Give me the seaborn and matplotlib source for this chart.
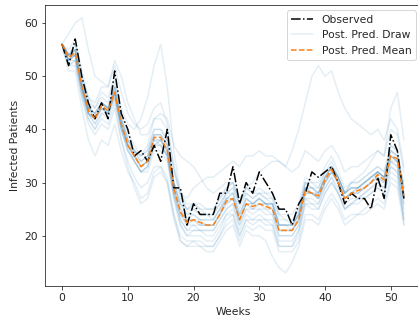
import numpy as np
import pandas as pd
import matplotlib
matplotlib.use("Agg")
import matplotlib.pyplot as plt
import seaborn as sns
from matplotlib.lines import Line2D

weeks = list(range(53))

observed = [56, 52, 57, 50, 45, 42, 45, 42, 51, 43, 40, 35, 36, 34, 37, 34, 40, 29, 29, 22,
            26, 24, 24, 24, 28, 28, 33, 26, 30, 28, 32, 30, 28, 25, 25, 22, 26, 28, 32, 31,
            32, 33, 30, 26, 28, 27, 27, 25, 31, 27, 39, 36, 27]

pp_mean = [56, 53.5, 54.5, 48, 43.5, 42, 44.5, 43.5, 47, 41, 37, 35, 33, 34, 38.5, 38.5, 36, 29,
           24.5, 22.5, 23, 22.5, 22, 22, 24, 26.5, 27, 23, 26, 25.5, 26, 25.5, 25, 21, 21, 21,
           23, 28.5, 28, 27.5, 30.5, 32.5, 30, 27, 28, 28.5, 29, 30, 31.5, 30.5, 35, 34.5, 27.5]

draw_01 = [56,58,60,61,55,50,49,48,52,47,43,41,40,41,44,45,41,33,27,25,26,25,24,24,26,28,29,25,28,27,28,27,27,23,23,22,25,30,30,29,32,34,31,28,30,30,31,32,33,32,37,36,29]
draw_02 = [56,54,56,50,46,44,46,45,49,44,41,40,42,46,52,56,48,36,28,25,25,24,24,23,25,27,28,24,27,26,27,26,26,22,22,21,24,29,28,28,31,33,30,27,28,29,30,31,32,31,36,35,28]
draw_03 = [55,52,52,46,41,39,41,40,44,38,34,31,29,30,33,33,30,24,19,18,18,18,17,17,19,21,22,18,21,20,20,19,16,14,13,15,18,23,23,22,25,27,25,22,23,24,24,25,26,25,30,29,22]
draw_04 = [56,54,55,49,44,43,45,44,48,42,38,36,34,35,39,39,37,30,26,24,25,24,24,24,26,28,29,26,29,30,32,33,34,34,33,36,40,45,50,52,50,51,47,44,42,41,40,39,40,38,42,40,33]
draw_05 = [56,53,53,47,43,42,44,43,47,41,37,36,35,36,40,40,38,32,28,27,29,30,31,31,32,33,34,33,35,35,36,35,35,34,33,32,33,36,35,34,36,37,35,32,33,33,34,35,36,35,40,39,32]
draw_06 = [56,53,55,48,43,42,45,44,48,42,38,35,33,34,38,38,36,29,24,22,23,22,22,22,24,27,27,23,26,26,26,26,25,21,21,21,23,29,28,28,31,33,31,28,30,31,32,34,36,35,44,47,38]
draw_07 = [56,51,51,44,38,35,38,37,41,36,32,30,27,28,32,33,31,24,20,19,19,19,18,18,20,22,23,19,22,21,22,21,21,17,17,17,19,24,24,23,26,28,26,23,24,24,25,26,27,26,31,30,23]
draw_08 = [56,52,53,46,42,40,42,41,45,38,33,29,26,27,31,32,30,23,19,18,19,18,18,18,20,23,24,20,23,22,23,22,22,18,18,18,20,26,25,25,28,30,28,25,26,27,27,28,29,28,33,32,25]
draw_09 = [56,55,57,51,46,45,48,48,53,50,45,42,39,39,42,42,40,33,28,26,26,25,25,25,27,29,30,26,29,28,29,28,28,24,24,24,26,31,30,30,33,35,32,29,30,30,31,32,33,32,37,36,29]
draw_10 = [56,54,54,48,44,43,45,44,48,42,38,36,35,37,42,43,42,37,35,34,33,31,29,28,29,30,30,27,29,28,28,28,27,24,23,23,25,30,29,29,32,33,31,28,29,29,30,31,32,31,35,34,27]
draw_11 = [56,53,54,47,43,41,44,43,46,40,36,34,32,33,37,37,35,28,23,21,22,21,21,21,23,25,26,22,25,24,25,24,24,20,20,20,22,27,27,26,29,31,29,26,27,27,28,29,30,29,34,33,26]
draw_12 = [56,54,55,49,44,43,45,44,48,42,38,36,34,35,39,39,37,30,25,23,24,23,23,23,25,28,28,24,27,26,27,26,26,22,22,22,24,29,29,28,31,33,31,28,29,29,30,31,32,31,36,35,28]
draw_13 = [56,53,54,48,44,42,44,43,47,41,37,35,33,34,38,37,35,27,22,20,21,21,20,20,22,24,25,21,24,23,24,23,23,19,19,19,21,27,26,26,29,31,28,25,26,27,28,29,30,29,33,32,24]
draw_14 = [56,54,55,48,43,41,43,43,46,40,37,35,33,34,37,37,35,28,24,22,22,22,22,22,24,26,27,23,26,26,27,26,26,22,22,22,24,29,29,28,31,33,31,28,29,29,30,31,32,31,35,34,29]
draw_15 = [56,52,53,47,42,40,43,42,46,40,36,34,32,32,36,36,34,27,22,20,20,20,19,19,21,24,24,20,23,23,23,23,22,18,18,18,21,26,26,25,28,30,28,25,26,26,27,28,29,28,32,31,23]
draw_16 = [56,54,56,50,45,44,47,46,50,43,39,37,35,36,40,40,38,30,26,24,24,23,23,23,25,27,28,24,27,26,27,26,26,22,22,22,24,30,29,28,31,33,31,28,29,29,30,31,32,31,36,35,27]
draw_17 = [56,53,54,48,43,42,44,43,47,41,37,35,33,34,38,38,36,30,26,25,26,26,25,25,27,29,30,26,28,27,28,27,26,22,22,22,24,28,28,27,30,32,30,27,28,28,29,30,31,30,34,33,26]
draw_18 = [56,53,55,48,44,42,45,44,47,41,37,34,32,33,37,38,36,28,23,21,21,21,21,21,23,25,26,22,25,25,25,25,24,20,20,20,22,28,28,27,30,32,30,27,28,28,29,30,31,30,35,34,30]
draw_19 = [56,54,54,48,43,42,44,43,47,40,36,34,32,33,37,38,35,28,24,23,23,23,22,22,24,26,27,23,26,25,26,25,25,21,21,21,23,28,28,27,30,32,30,27,28,29,29,30,32,31,35,34,22]
draw_20 = [56,53,54,49,44,43,45,44,47,41,37,35,34,35,39,39,37,29,25,23,23,22,22,22,24,27,27,23,26,25,26,26,25,21,21,21,23,29,28,27,30,32,30,27,28,28,29,30,31,30,34,34,27]

draws = [draw_01, draw_02, draw_03, draw_04, draw_05, draw_06, draw_07, draw_08, draw_09, draw_10,
         draw_11, draw_12, draw_13, draw_14, draw_15, draw_16, draw_17, draw_18, draw_19, draw_20]

draw_df = pd.DataFrame({
    "week": weeks * len(draws),
    "value": [v for d in draws for v in d],
    "draw": [i for i, d in enumerate(draws) for _ in d],
})
obs_df = pd.DataFrame({"week": weeks, "value": observed})
mean_df = pd.DataFrame({"week": weeks, "value": pp_mean})

sns.set_style("ticks")
plt.rcParams["font.family"] = ["DejaVu Sans"]
plt.rcParams["font.size"] = 10.8

DPI = 72
fig = plt.figure(figsize=(418 / DPI, 320 / DPI), dpi=DPI)
ax = fig.add_axes([45 / 418, 1 - 285.7 / 320, (421 - 45) / 418, (285.7 - 5) / 320])

sns.lineplot(data=draw_df, x="week", y="value", units="draw", estimator=None,
             color="C0", alpha=0.12, lw=1.5, ax=ax, legend=False)
sns.lineplot(data=obs_df, x="week", y="value", color="black", ls="-.", lw=1.5, ax=ax)
sns.lineplot(data=mean_df, x="week", y="value", color="C1", ls="--", lw=1.5, ax=ax)

handles = [
    Line2D([], [], color="black", ls="-.", lw=1.5),
    Line2D([], [], color="C0", alpha=0.12, lw=1.5),
    Line2D([], [], color="C1", ls="--", lw=1.5),
]
ax.legend(handles, ["Observed", "Post. Pred. Draw", "Post. Pred. Mean"], loc="upper right")
ax.set_xlabel("Weeks")
ax.set_ylabel("Infected Patients")
ax.set_xticks([0, 10, 20, 30, 40, 50])
ax.set_yticks([20, 30, 40, 50, 60])

fig.savefig("out.png", dpi=DPI)
